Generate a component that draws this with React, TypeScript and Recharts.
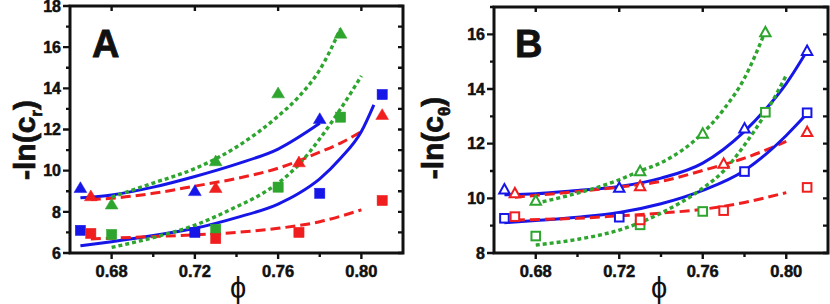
import React from "react";
import { ComposedChart, Line, Scatter, XAxis, YAxis } from "recharts";

type Pt = [number, number];

// phi axis
const phiDomain: [number, number] = [0.66, 0.82];
const phiTicks = [0.68, 0.7, 0.72, 0.74, 0.76, 0.78, 0.8];
const phiMajor = [0.68, 0.72, 0.76, 0.8];

// panel A: -ln(c_r)
const aTicks = [6, 7, 8, 9, 10, 11, 12, 13, 14, 15, 16, 17, 18];
const aMajor = [6, 8, 10, 12, 14, 16, 18];

const aBlueTri: Pt[] = [[0.665, 9.2], [0.72, 9.05], [0.78, 12.55]];
const aGreenTri: Pt[] = [[0.68, 8.4], [0.73, 10.5], [0.76, 13.8], [0.79, 16.7]];
const aRedTri: Pt[] = [[0.67, 8.8], [0.73, 9.2], [0.77, 10.45], [0.81, 12.75]];
const aBlueSq: Pt[] = [[0.665, 7.1], [0.72, 7.0], [0.78, 8.9], [0.81, 13.7]];
const aGreenSq: Pt[] = [[0.68, 6.9], [0.73, 7.15], [0.76, 9.2], [0.79, 12.6]];
const aRedSq: Pt[] = [[0.67, 6.95], [0.73, 6.7], [0.77, 7.0], [0.81, 8.55]];

const aBlueUpFit: Pt[] = [[0.665, 8.68], [0.68, 8.82], [0.7, 9.2], [0.72, 9.72], [0.74, 10.32], [0.76, 11.05], [0.78, 12.3]];
const aRedUpFit: Pt[] = [[0.67, 8.6], [0.68, 8.66], [0.7, 8.9], [0.72, 9.25], [0.74, 9.62], [0.76, 10.12], [0.78, 10.9], [0.79, 11.34], [0.8, 11.9]];
const aGreenUpFit: Pt[] = [[0.68, 8.72], [0.7, 9.4], [0.72, 10.1], [0.74, 11.15], [0.76, 12.65], [0.77, 13.6], [0.78, 14.9], [0.79, 16.9]];
const aBlueLowFit: Pt[] = [[0.665, 6.35], [0.68, 6.55], [0.7, 6.85], [0.72, 7.2], [0.74, 7.72], [0.76, 8.38], [0.77, 8.9], [0.78, 9.6], [0.79, 10.6], [0.8, 11.9], [0.806, 13.2]];
const aRedLowFit: Pt[] = [[0.67, 6.68], [0.7, 6.8], [0.72, 6.88], [0.74, 7.0], [0.76, 7.2], [0.78, 7.52], [0.8, 8.1]];
const aGreenLowFit: Pt[] = [[0.68, 6.27], [0.7, 6.75], [0.72, 7.35], [0.74, 8.25], [0.75, 8.75], [0.76, 9.4], [0.77, 10.3], [0.78, 11.55], [0.79, 13.0], [0.8, 14.6]];

// panel B: -ln(c_theta)
const bTicks = [8, 9, 10, 11, 12, 13, 14, 15, 16, 17];
const bMajor = [8, 10, 12, 14, 16];

const bBlueTri: Pt[] = [[0.665, 10.35], [0.72, 10.41], [0.78, 12.58], [0.81, 15.42]];
const bGreenTri: Pt[] = [[0.68, 9.94], [0.73, 11.02], [0.76, 12.39], [0.79, 16.1]];
const bRedTri: Pt[] = [[0.67, 10.21], [0.73, 10.47], [0.77, 11.29], [0.81, 12.45]];
const bBlueSq: Pt[] = [[0.665, 9.27], [0.72, 9.31], [0.78, 10.98], [0.81, 13.13]];
const bGreenSq: Pt[] = [[0.68, 8.62], [0.73, 9.03], [0.76, 9.52], [0.79, 13.15]];
const bRedSq: Pt[] = [[0.67, 9.33], [0.73, 9.21], [0.77, 9.55], [0.81, 10.4]];

const bBlueUpFit: Pt[] = [[0.665, 10.13], [0.68, 10.17], [0.7, 10.29], [0.72, 10.43], [0.74, 10.74], [0.76, 11.29], [0.78, 12.45], [0.79, 13.25], [0.8, 14.2], [0.81, 15.4]];
const bRedUpFit: Pt[] = [[0.67, 10.04], [0.7, 10.25], [0.72, 10.41], [0.74, 10.62], [0.76, 11.02], [0.78, 11.47], [0.8, 12.08]];
const bGreenUpFit: Pt[] = [[0.68, 9.82], [0.7, 10.19], [0.72, 10.68], [0.73, 11.0], [0.74, 11.3], [0.76, 12.39], [0.77, 13.25], [0.78, 14.4], [0.79, 16.12]];
const bBlueLowFit: Pt[] = [[0.665, 9.11], [0.68, 9.19], [0.7, 9.31], [0.72, 9.48], [0.74, 9.8], [0.76, 10.29], [0.78, 11.02], [0.79, 11.6], [0.8, 12.3], [0.81, 13.1]];
const bRedLowFit: Pt[] = [[0.67, 9.21], [0.7, 9.27], [0.72, 9.36], [0.74, 9.46], [0.76, 9.6], [0.78, 9.85], [0.8, 10.21]];
const bGreenLowFit: Pt[] = [[0.68, 8.29], [0.7, 8.5], [0.72, 8.84], [0.74, 9.46], [0.76, 10.37], [0.77, 11.0], [0.78, 11.95], [0.79, 13.1], [0.8, 14.5]];

const BLUE = "#1616e8";
const RED = "#f01e1e";
const GREEN = "#2ea52e";
const INK = "#111";
const FONT = '"Liberation Sans", Arial, Helvetica, sans-serif';

const rows = (pts: Pt[]) => pts.map(([x, y]) => ({ x, y }));
const has = (list: number[], v: number) => list.some((m) => Math.abs(m - v) < 1e-6);

type Fit = { pts: Pt[]; color: string; style: "solid" | "dash" | "dot" };
type Mark = { pts: Pt[]; color: string; kind: "tri" | "sq" };

const dashes = { solid: undefined, dash: "10 5", dot: "4 3" };

function marker(kind: "tri" | "sq", color: string, open: boolean) {
  return (p: any) => {
    const { cx, cy } = p;
    if (cx == null || cy == null) return <g />;
    const fill = open ? "#fff" : color;
    const sw = open ? 2 : 0.5;
    if (kind === "tri") {
      const w = open ? 5.2 : 6.4;
      const h = open ? 4.7 : 5.4;
      return (
        <polygon
          points={`${cx},${cy - h} ${cx - w},${cy + h} ${cx + w},${cy + h}`}
          fill={fill}
          stroke={color}
          strokeWidth={sw}
        />
      );
    }
    const s = open ? 4.3 : 5.1;
    return <rect x={cx - s} y={cy - s} width={2 * s} height={2 * s} fill={fill} stroke={color} strokeWidth={sw} />;
  };
}

function LeftTick(props: any) {
  const { x, y, payload, majors } = props;
  if (!has(majors, payload.value)) return <g />;
  return (
    <text
      x={x - 9}
      y={y}
      dy="0.36em"
      textAnchor="end"
      fontFamily={FONT}
      fontWeight="bold"
      fontSize={16}
      fill={INK}
      stroke={INK}
      strokeWidth={0.5}
    >
      {payload.value}
    </text>
  );
}

function BottomTick(props: any) {
  const { x, y, payload } = props;
  if (!has(phiMajor, payload.value)) return <g />;
  return (
    <text
      x={x}
      y={y + 24}
      textAnchor="middle"
      fontFamily={FONT}
      fontWeight="bold"
      fontSize={16.5}
      fill={INK}
      stroke={INK}
      strokeWidth={0.5}
    >
      {payload.value.toFixed(2)}
    </text>
  );
}

type PanelProps = {
  width: number;
  margin: { top: number; right: number; bottom: number; left: number };
  yWidth: number;
  yDomain: [number, number];
  yTicks: number[];
  yMajor: number[];
  fits: Fit[];
  marks: Mark[];
  open: boolean;
};

function Panel(p: PanelProps) {
  return (
    <ComposedChart width={p.width} height={304} margin={p.margin}>
      <XAxis
        dataKey="x"
        type="number"
        domain={phiDomain}
        ticks={phiTicks}
        interval={0}
        allowDataOverflow
        height={51}
        tickLine={false}
        tickSize={0}
        tickMargin={0}
        axisLine={false}
        tick={<BottomTick />}
      />
      <YAxis
        type="number"
        domain={p.yDomain}
        ticks={p.yTicks}
        interval={0}
        allowDataOverflow
        width={p.yWidth}
        tickLine={false}
        tickSize={0}
        tickMargin={0}
        axisLine={false}
        tick={<LeftTick majors={p.yMajor} />}
      />
      {p.fits.map((f, i) => (
        <Line
          key={"f" + i}
          data={rows(f.pts)}
          dataKey="y"
          type="monotone"
          stroke={f.color}
          strokeWidth={f.style === "dot" ? 3.4 : 3}
          strokeDasharray={dashes[f.style]}
          dot={false}
          activeDot={false}
          isAnimationActive={false}
        />
      ))}
      {p.marks.map((m, i) => (
        <Scatter
          key={"m" + i}
          data={rows(m.pts)}
          dataKey="y"
          shape={marker(m.kind, m.color, p.open)}
          isAnimationActive={false}
        />
      ))}
    </ComposedChart>
  );
}

// plot frame with tick marks, in page pixels of the plot box
function Frame(props: {
  left: number;
  right: number;
  top: number;
  bottom: number;
  yDomain: [number, number];
  yTicks: number[];
  yMajor: number[];
}) {
  const { left, right, top, bottom, yDomain, yTicks, yMajor } = props;
  const [x0, x1] = phiDomain;
  const [y0, y1] = yDomain;
  const sx = (v: number) => left + ((v - x0) / (x1 - x0)) * (right - left);
  const sy = (v: number) => bottom - ((v - y0) / (y1 - y0)) * (bottom - top);
  let d = "";
  phiTicks.forEach((v) => {
    const major = has(phiMajor, v);
    d += `M${sx(v)},${bottom}v${major ? 6 : 4}`;
    if (major) d += `M${sx(v)},${top}v5`;
  });
  yTicks.forEach((v) => {
    d += `M${left},${sy(v)}h-${has(yMajor, v) ? 7 : 4}`;
    d += `M${right},${sy(v)}h-5`;
  });
  return (
    <g>
      <path d={d} stroke={INK} strokeWidth={2.4} fill="none" />
      <rect x={left} y={top} width={right - left} height={bottom - top} fill="none" stroke={INK} strokeWidth={3} />
    </g>
  );
}

function YLabel({ x, y, sub }: { x: number; y: number; sub: string }) {
  return (
    <text
      transform={`translate(${x},${y}) rotate(-90)`}
      textAnchor="middle"
      fontFamily={FONT}
      fontWeight="bold"
      fontSize={30}
      fill={INK}
      stroke={INK}
      strokeWidth={0.7}
    >
      -ln(c
      <tspan fontSize={17} dy={7}>
        {sub}
      </tspan>
      <tspan dy={-7}>)</tspan>
    </text>
  );
}

export default function App() {
  const letter = { fontFamily: FONT, fontWeight: "bold" as const, fontSize: 38, fill: INK, stroke: INK, strokeWidth: 0.8 };
  return (
    <div style={{ position: "absolute", left: 0, top: 0, width: 830, height: 304, background: "#fff" }}>
      <div style={{ position: "absolute", left: 0, top: 0 }}>
        <Panel
          width={412}
          margin={{ top: 6, right: 9, bottom: 0, left: 0 }}
          yWidth={70}
          yDomain={[6, 18]}
          yTicks={aTicks}
          yMajor={aMajor}
          open={false}
          fits={[
            { pts: aBlueUpFit, color: BLUE, style: "solid" },
            { pts: aRedUpFit, color: RED, style: "dash" },
            { pts: aGreenUpFit, color: GREEN, style: "dot" },
            { pts: aBlueLowFit, color: BLUE, style: "solid" },
            { pts: aRedLowFit, color: RED, style: "dash" },
            { pts: aGreenLowFit, color: GREEN, style: "dot" },
          ]}
          marks={[
            { pts: aBlueTri, color: BLUE, kind: "tri" },
            { pts: aGreenTri, color: GREEN, kind: "tri" },
            { pts: aRedTri, color: RED, kind: "tri" },
            { pts: aBlueSq, color: BLUE, kind: "sq" },
            { pts: aGreenSq, color: GREEN, kind: "sq" },
            { pts: aRedSq, color: RED, kind: "sq" },
          ]}
        />
      </div>
      <div style={{ position: "absolute", left: 410, top: 0 }}>
        <Panel
          width={420}
          margin={{ top: 7, right: 2, bottom: 0, left: 0 }}
          yWidth={84}
          yDomain={[8, 17]}
          yTicks={bTicks}
          yMajor={bMajor}
          open={true}
          fits={[
            { pts: bBlueUpFit, color: BLUE, style: "solid" },
            { pts: bRedUpFit, color: RED, style: "dash" },
            { pts: bGreenUpFit, color: GREEN, style: "dot" },
            { pts: bBlueLowFit, color: BLUE, style: "solid" },
            { pts: bRedLowFit, color: RED, style: "dash" },
            { pts: bGreenLowFit, color: GREEN, style: "dot" },
          ]}
          marks={[
            { pts: bBlueTri, color: BLUE, kind: "tri" },
            { pts: bGreenTri, color: GREEN, kind: "tri" },
            { pts: bRedTri, color: RED, kind: "tri" },
            { pts: bBlueSq, color: BLUE, kind: "sq" },
            { pts: bGreenSq, color: GREEN, kind: "sq" },
            { pts: bRedSq, color: RED, kind: "sq" },
          ]}
        />
      </div>
      <svg width={830} height={304} style={{ position: "absolute", left: 0, top: 0, pointerEvents: "none" }}>
        <Frame left={70} right={403} top={6} bottom={253} yDomain={[6, 18]} yTicks={aTicks} yMajor={aMajor} />
        <Frame left={494} right={828} top={7} bottom={253} yDomain={[8, 17]} yTicks={bTicks} yMajor={bMajor} />
        <text x={92} y={57} {...letter}>
          A
        </text>
        <text x={515} y={57} {...letter}>
          B
        </text>
        <YLabel x={35} y={140} sub="r" />
        <YLabel x={443} y={138} sub="θ" />
        <text x={238} y={298} textAnchor="middle" fontFamily={FONT} fontSize={29} fill={INK}>
          ϕ
        </text>
        <text x={659} y={298} textAnchor="middle" fontFamily={FONT} fontSize={29} fill={INK}>
          ϕ
        </text>
      </svg>
    </div>
  );
}
